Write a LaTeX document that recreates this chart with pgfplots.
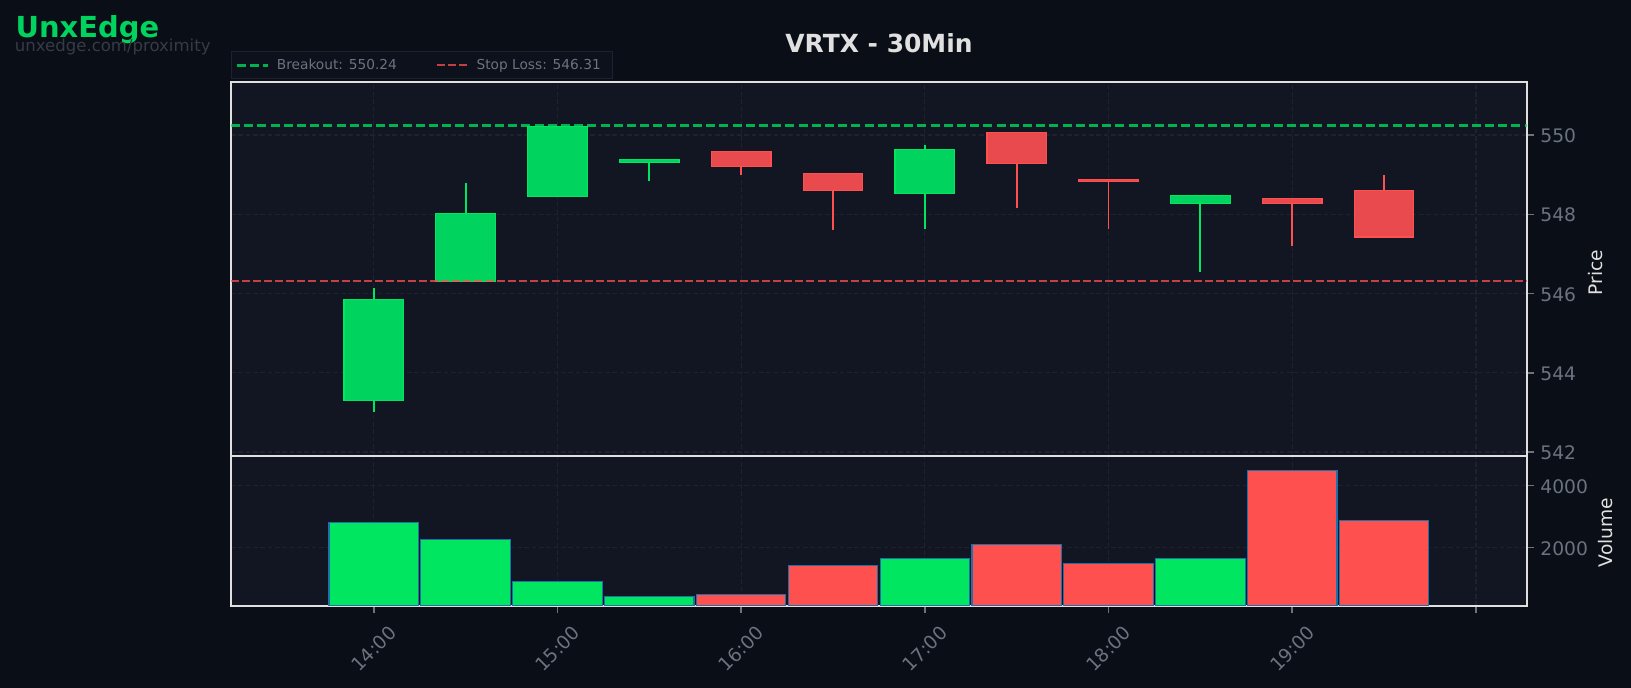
\documentclass[border=0pt]{standalone}
\usepackage{fontspec}
\setmainfont{DejaVu Sans}
\usepackage{pgfplots}
\pgfplotsset{compat=1.18}
\definecolor{figbg}{HTML}{0A0E16}
\definecolor{axbg}{HTML}{111622}
\definecolor{frame}{HTML}{E0E0E0}
\definecolor{tickc}{HTML}{6B7280}
\definecolor{gridc}{HTML}{1D222E}
\definecolor{upbody}{HTML}{00D45F}
\definecolor{upline}{HTML}{00E660}
\definecolor{dnbody}{HTML}{E84A4E}
\definecolor{dnline}{HTML}{FF5050}
\definecolor{edgeb}{HTML}{1F6FA8}
\definecolor{legbg}{HTML}{0D111B}
% colour body, colour line, t, left, right, bottom of body, top of body, low, high
\newcommand{\candle}[9]{%
  \addplot[forget plot,solid,draw=#2,line width=1.4pt] coordinates {(#3,#8)(#3,#9)};
  \addplot[forget plot,solid,fill=#1,draw=#2,line width=0.9pt] coordinates {(#4,#6)(#5,#6)(#5,#7)(#4,#7)} --cycle;}
\pgfplotsset{common/.style={
  scale only axis,width=972pt,
  xmin=13.223,xmax=20.278,
  xtick={14,15,16,17,18,19,20},
  axis background/.style={fill=axbg},
  axis line style={draw=frame,line width=1.3pt},
  tick style={draw=tickc,line width=1.2pt},
  major tick length=5pt,
  tick align=outside,
  xtick pos=bottom,ytick pos=right,
  yticklabel pos=right,
  grid=major,
  grid style={draw=gridc,line width=0.9pt,dash pattern=on 3.5pt off 2pt},
  tick label style={font=\fontsize{14}{16}\selectfont,text=tickc},
  yticklabel style={/pgf/number format/assume math mode=true,/pgf/number format/1000 sep={},xshift=1.5pt,yshift=-0.6pt},
  label style={font=\fontsize{14}{16}\selectfont,text=frame},
}}
\begin{document}
\begin{tikzpicture}
\fill[figbg] (0,0) rectangle (1223.25pt,516pt);
\useasboundingbox (0,0) rectangle (1223.25pt,516pt);
\begin{axis}[common,name=price,at={(173.25pt,174pt)},anchor=south west,height=280.5pt,
  ymin=541.9,ymax=551.34,ytick={542,544,546,548,550},
  xticklabels={},
  ylabel={Price},ylabel style={at={(axis description cs:1.0525,0.49)},anchor=center},
  legend columns=2,
  legend image code/.code={\draw[#1] (0pt,0pt) -- (23pt,0pt);},
  legend style={at={(0,1)},anchor=south west,yshift=2pt,fill=legbg,draw=gridc,line width=0.8pt,
    font=\fontsize{10.3}{12}\selectfont,text=tickc,inner xsep=3pt,inner ysep=3.5pt,
    /tikz/every even column/.append style={column sep=23pt},
    nodes={inner xsep=6pt}},
]
\candle{upbody}{upline}{14.0}{13.838}{14.162}{543.30}{545.85}{543.00}{546.15}
\candle{upbody}{upline}{14.5}{14.338}{14.662}{546.31}{548.03}{546.31}{548.80}
\candle{upbody}{upline}{15.0}{14.838}{15.162}{548.45}{550.22}{548.45}{550.22}
\candle{upbody}{upline}{15.5}{15.338}{15.662}{549.30}{549.38}{548.85}{549.38}
\candle{dnbody}{dnline}{16.0}{15.838}{16.162}{549.20}{549.58}{549.00}{549.58}
\candle{dnbody}{dnline}{16.5}{16.338}{16.662}{548.60}{549.03}{547.60}{549.03}
\candle{upbody}{upline}{17.0}{16.838}{17.162}{548.52}{549.63}{547.62}{549.75}
\candle{dnbody}{dnline}{17.5}{17.338}{17.662}{549.29}{550.07}{548.15}{550.07}
\candle{dnbody}{dnline}{18.0}{17.838}{18.162}{548.82}{548.88}{547.62}{548.88}
\candle{upbody}{upline}{18.5}{18.338}{18.662}{548.27}{548.47}{546.55}{548.47}
\candle{dnbody}{dnline}{19.0}{18.838}{19.162}{548.27}{548.40}{547.20}{548.40}
\candle{dnbody}{dnline}{19.5}{19.338}{19.662}{547.43}{548.60}{547.43}{549.00}
\addplot[upline,opacity=0.75,line width=2pt,dash pattern=on 6.8pt off 3.1pt] coordinates {(13.223,550.24)(20.278,550.24)};
\addlegendentry{Breakout: 550.24}
\addplot[dnline,opacity=0.75,line width=1.7pt,dash pattern=on 6pt off 2.3pt] coordinates {(13.223,546.31)(20.278,546.31)};
\addlegendentry{Stop Loss: 546.31}
\end{axis}
\begin{axis}[common,name=vol,at={(173.25pt,61.5pt)},anchor=south west,height=112.5pt,
  ymin=119,ymax=4958,ytick={2000,4000},
  xticklabels={14:00,15:00,16:00,17:00,18:00,19:00,},
  xticklabel style={yshift=-27pt,rotate=45,anchor=center},
  ylabel={Volume},ylabel style={at={(axis description cs:1.0605,0.49)},anchor=center},
  ybar,bar width=0.487,
]
\addplot[fill=upline,draw=edgeb,line width=0.9pt,bar shift=0pt] coordinates
  {(14.0,2820)(14.5,2270)(15.0,915)(15.5,420)(17.0,1660)(18.5,1660)};
\addplot[fill=dnline,draw=edgeb,line width=0.9pt,bar shift=0pt] coordinates
  {(16.0,490)(16.5,1430)(17.5,2100)(18.0,1495)(19.0,4495)(19.5,2870)};
\end{axis}
\node[anchor=center,font=\bfseries\fontsize{18.7}{20}\selectfont,text=frame] at (659.25pt,483.75pt) {VRTX - 30Min};
\node[anchor=base west,inner sep=0pt,font=\bfseries\fontsize{21.7}{24}\selectfont,text=upbody] at (11.5pt,488pt) {UnxEdge};
\node[anchor=base west,inner sep=0pt,font=\fontsize{12.4}{14}\selectfont,text=tickc!45!figbg] at (11pt,477.2pt) {unxedge.com/proximity};
\end{tikzpicture}
\end{document}
